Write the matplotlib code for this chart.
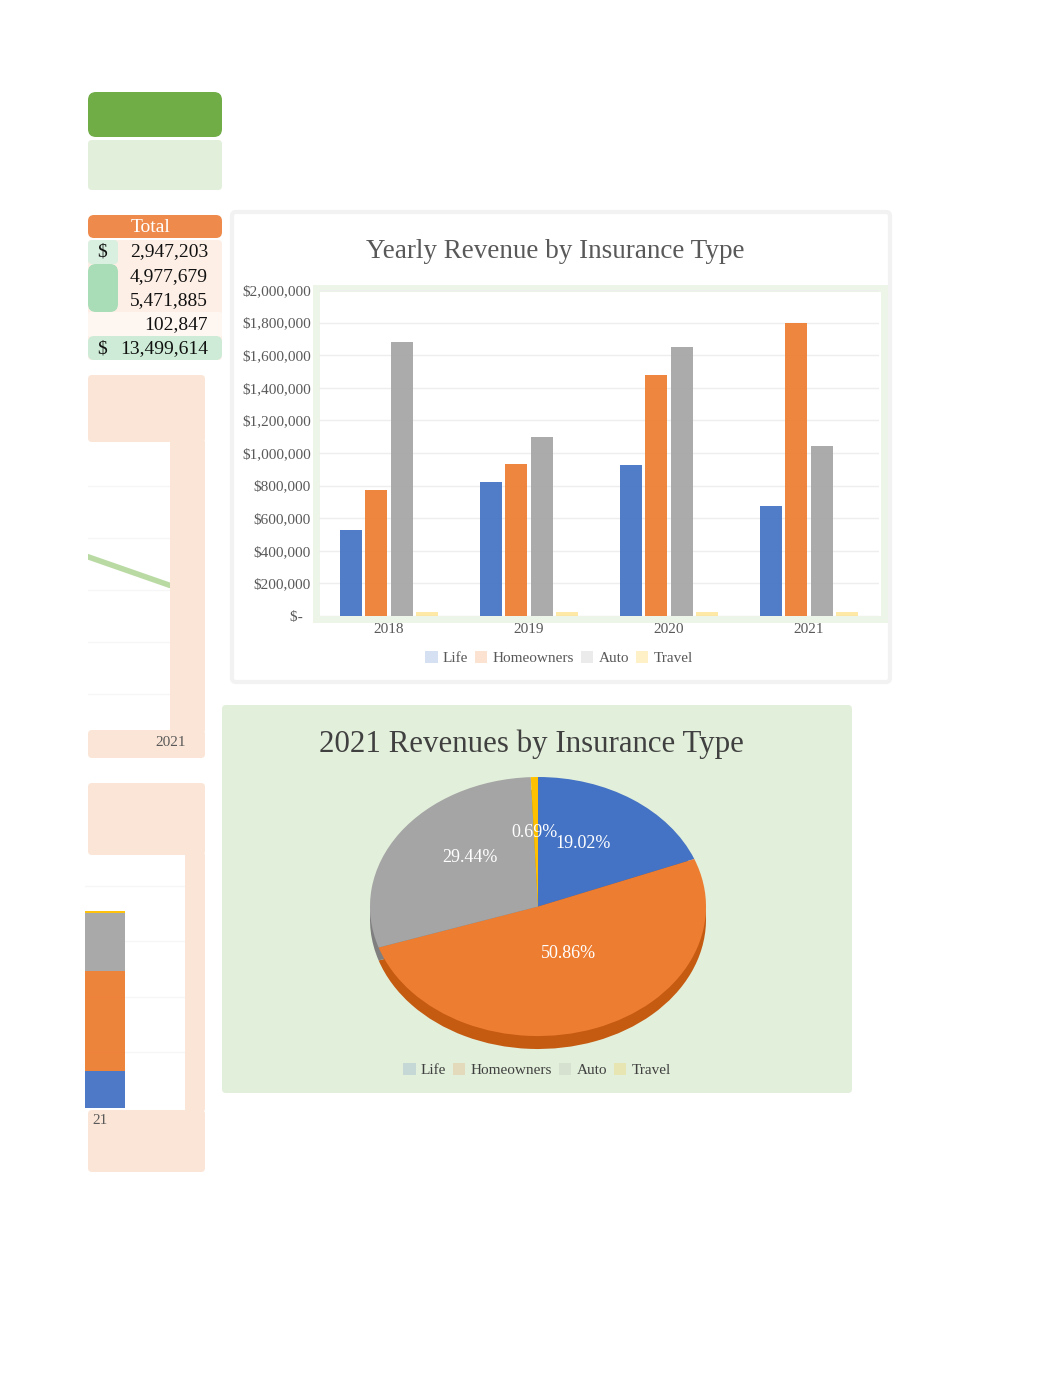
import matplotlib
matplotlib.use("Agg")
import matplotlib.pyplot as plt
from matplotlib.patches import Rectangle, FancyBboxPatch, Patch
import numpy as np

plt.rcParams['font.family'] = ['Liberation Serif', 'DejaVu Serif']

# ---------------- data ----------------
years = ["2018", "2019", "2020", "2021"]
types = ["Life", "Homeowners", "Auto", "Travel"]
life = [530000, 820000, 923860, 673343]
homeowners = [770000, 930000, 1477306, 1800373]
auto = [1680000, 1100000, 1649851, 1042034]
travel = [26000, 26500, 26097, 24250]
yticks = [0, 200000, 400000, 600000, 800000, 1000000, 1200000,
          1400000, 1600000, 1800000, 2000000]

colors = ['#4472C4', '#ED7D31', '#A5A5A5', '#FFC000']
side_colors = ['#2f5597', '#c55a11', '#7f7f7f', '#bf9000']

series = [life, homeowners, auto, travel]
type_totals = [sum(s) for s in series]
grand_total = sum(type_totals)
year_totals = [sum(v) for v in zip(*series)]
pie_vals = [s[-1] for s in series]

W, H = 1062, 1377
fig = plt.figure(figsize=(W / 100, H / 100), dpi=100)
fig.patch.set_facecolor('white')


def px(x, y, w, h):
    return [x / W, 1 - (y + h) / H, w / W, h / H]


bg = fig.add_axes([0, 0, 1, 1], zorder=0)
bg.set_xlim(0, W)
bg.set_ylim(H, 0)
bg.axis('off')


def box(x, y, w, h, fc, ec='none', lw=0, r=3, z=1, alpha=1):
    bg.add_patch(FancyBboxPatch((x, y), w, h, boxstyle=f"round,pad=0,rounding_size={r}",
                                fc=fc, ec=ec, lw=lw, zorder=z, alpha=alpha))


# ---------------- left spreadsheet remnants ----------------
box(88, 92, 134, 45, '#70AD47', r=8)
box(88, 140, 134, 50, '#E2EFDA', r=4)
box(88, 215, 134, 23, '#EE8B4C', r=6)
bg.text(151, 228, "Total", ha='center', va='center', color='white', fontsize=14)

# row backgrounds
box(88, 240, 134, 120, '#FDEFE6', r=4)
box(88, 240, 30, 24, '#D9F0E0', r=4, z=1.1)
box(88, 264, 30, 48, '#A9DDB8', r=8, z=1.1)
box(88, 312, 134, 25, '#FEF6F1', r=2, z=1.1)
box(88, 336, 134, 24, '#CDEBD6', r=6, z=1.2)

row_y = [252, 277, 301, 325, 349]
vals_text = [f"{v:,.0f}" for v in type_totals] + [f"{grand_total:,.0f}"]
for i, (yy, t) in enumerate(zip(row_y, vals_text)):
    bg.text(208, yy, t, ha='right', va='center', fontsize=14, color='#111111', zorder=5)
    if i in (0, 4):
        bg.text(97, yy, "$", ha='left', va='center', fontsize=14, color='#111111', zorder=5)

# hidden chart 1 (line)
box(88, 375, 117, 67, '#FBE5D6', r=4)
box(170, 440, 35, 292, '#FBE5D6', r=2)
box(88, 730, 117, 28, '#FBE5D6', r=4)
bg.text(171, 743, "2021", ha='center', va='center', fontsize=11, color='#595959', zorder=5)
axl = fig.add_axes(px(88, 445, 82, 285), zorder=2)
axl.plot(range(len(years)), year_totals, color='#A9D18E', lw=4, alpha=0.8,
         solid_capstyle='round')
axl.set_xlim(3 - 82 / 160, 3)
axl.set_ylim(2.15e6, 4.89e6)
axl.set_yticks([2.5e6, 3.0e6, 3.5e6, 4.0e6, 4.5e6])
axl.grid(axis='y', color='#f6f6f6', lw=1)
axl.tick_params(length=0, labelleft=False, labelbottom=False)
for s in axl.spines.values():
    s.set_visible(False)
axl.set_facecolor('white')

# hidden chart 2 (stacked bar)
box(88, 783, 117, 72, '#FBE5D6', r=4)
box(185, 853, 20, 258, '#FBE5D6', r=2)
box(88, 1110, 117, 62, '#FBE5D6', r=4)
bg.text(92, 1120, "21", ha='left', va='center', fontsize=11, color='#595959', zorder=5)
axs = fig.add_axes(px(85, 858, 100, 250), zorder=2)
bottom = 0
for v, c in zip(pie_vals, colors):
    axs.bar(0.1, v, width=0.6, bottom=bottom, color=c, alpha=0.95)
    bottom += v
axs.set_xlim(0, 1)
axs.set_ylim(0, 4.5e6)
axs.set_yticks([1e6, 2e6, 3e6, 4e6])
axs.grid(axis='y', color='#f6f6f6', lw=1)
axs.set_axisbelow(True)
axs.tick_params(length=0, labelleft=False, labelbottom=False)
for s in axs.spines.values():
    s.set_visible(False)

# ---------------- bar chart ----------------
box(232, 212, 658, 470, 'white', ec='#f2f2f2', lw=3, r=4, z=1)
bg.add_patch(Rectangle((316, 288), 568, 331, fc='none', ec='#EDF4E8', lw=5, zorder=1.5))
fig.text(555 / W, 1 - 251 / H, "Yearly Revenue by Insurance Type", ha='center', va='center',
         fontsize=19.5, color='#595959')

ax = fig.add_axes(px(319, 290, 560, 326), zorder=3)
ax.set_facecolor('none')
x = np.arange(len(years))
bw = 0.157
offs = [-1.5, -0.5, 0.5, 1.5]
for s, c, o, name in zip(series, colors, offs, types):
    a = 0.35 if name == "Travel" else 0.93
    ax.bar(x + o * 0.18, s, width=bw, color=c, alpha=a, zorder=3)
ax.set_xlim(-0.5, 3.5)
ax.set_ylim(0, 2000000)
ax.set_yticks(yticks)
ax.set_yticklabels([("$-  " if v == 0 else f"${v:,.0f}") for v in yticks])
ax.set_xticks(x)
ax.set_xticklabels(years)
ax.tick_params(axis='y', length=0, labelsize=11, labelcolor='#595959', pad=6)
ax.tick_params(axis='x', length=0, labelsize=11, labelcolor='#595959', pad=5)
ax.grid(axis='y', color='#eeeeee', lw=1)
ax.set_axisbelow(True)
for s in ax.spines.values():
    s.set_visible(False)

h1 = [Patch(fc=c, alpha=0.22) for c in colors]
fig.legend(h1, types, loc='center', bbox_to_anchor=(559 / W, 1 - 658 / H), ncol=4,
           frameon=False, fontsize=11, handlelength=0.8, handleheight=0.8,
           handletextpad=0.35, columnspacing=0.45, labelcolor='#595959')

# ---------------- pie chart ----------------
box(222, 705, 630, 388, '#E2EFDA', r=4, z=1)
fig.text(531 / W, 1 - 744 / H, "2021 Revenues by Insurance Type", ha='center', va='center',
         fontsize=22.2, color='#404040')

axp = fig.add_axes(px(370, 777, 336, 272), zorder=3)
depth = 0.1
axp.pie(pie_vals, colors=side_colors, startangle=90, counterclock=False,
        center=(0, -depth), wedgeprops=dict(edgecolor='none'))
wedges, _, autotexts = axp.pie(pie_vals, colors=colors, startangle=90, counterclock=False,
                               autopct='%.2f%%', pctdistance=0.56,
                               wedgeprops=dict(edgecolor='none'),
                               textprops=dict(color='white', fontsize=13))
# Excel "best fit" label placement
label_pos = [(0.27, 0.49), (0.18, -0.36), (-0.405, 0.38), (-0.018, 0.57)]
for t, p in zip(autotexts, label_pos):
    t.set_position(p)
axp.set_aspect('auto')
axp.set_xlim(-1, 1)
axp.set_ylim(-1 - depth, 1)

h2 = [Patch(fc=c, alpha=0.18) for c in colors]
fig.legend(h2, types, loc='center', bbox_to_anchor=(537 / W, 1 - 1070 / H), ncol=4,
           frameon=False, fontsize=11, handlelength=0.8, handleheight=0.8,
           handletextpad=0.35, columnspacing=0.45, labelcolor='#404040')

fig.savefig("out.png", dpi=100, facecolor='white')
